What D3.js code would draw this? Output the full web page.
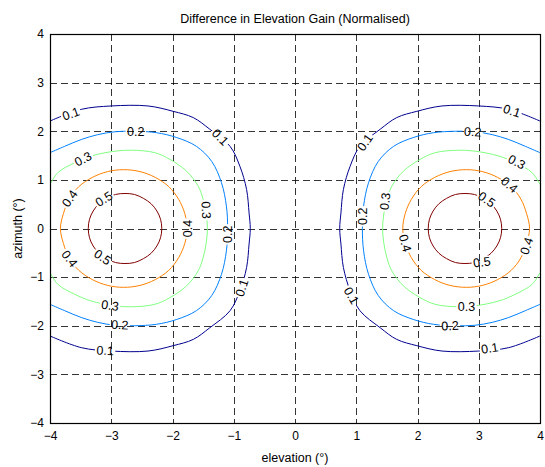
<!DOCTYPE html>
<meta charset="utf-8">
<head>
    <title>Difference in Elevation Gain</title>
    <script src="https://d3js.org/d3.v7.min.js"></script>
</head>

<style>
body { margin: 0; background: #fff; }
svg { font-family: Arial, "Liberation Sans", sans-serif; }
.grid line { stroke: #000; stroke-width: 0.8; stroke-dasharray: 7,4; }
.axis path, .axis line { display: none; }
.axis text { font-size: 12px; fill: #000; }
.clabel { font-size: 12.5px; fill: #000; }
</style>

<body>
<svg></svg>
<script>

// contour levels and their colours (jet)
let levels = [0.1, 0.2, 0.3, 0.4, 0.5];
let levelColors = ["#00008f", "#0080ff", "#80ff80", "#ff8000", "#800000"];

// upper half of each contour of the left lobe, [elevation, azimuth]
// (the lower half is the mirror in azimuth, the right lobe the mirror in elevation)
let c01 = [[-4, 2.21], [-3.49, 2.45], [-3.0, 2.52], [-2.4, 2.52], [-1.99, 2.41], [-1.66, 2.28],
           [-1.39, 2.04], [-1.06, 1.69], [-0.90, 1.28], [-0.79, 0.80], [-0.75, 0.32], [-0.73, 0]];
let c02 = [[-4, 1.56], [-3.76, 1.69], [-3.49, 1.83], [-3.22, 1.93], [-2.94, 1.99], [-2.62, 2.0],
           [-2.26, 1.97], [-1.93, 1.87], [-1.61, 1.69], [-1.36, 1.38], [-1.20, 0.94], [-1.12, 0.46],
           [-1.10, 0]];
let c03 = [[-4, 0.905], [-3.87, 1.15], [-3.60, 1.35], [-3.33, 1.49], [-2.94, 1.59], [-2.67, 1.61],
           [-2.29, 1.56], [-2.04, 1.42], [-1.77, 1.18], [-1.58, 0.87], [-1.50, 0.60], [-1.45, 0.30],
           [-1.43, 0]];
let c04 = [[-3.83, 0], [-3.78, 0.31], [-3.69, 0.60], [-3.53, 0.86], [-3.31, 1.05], [-3.06, 1.17],
           [-2.80, 1.21], [-2.53, 1.17], [-2.28, 1.05], [-2.06, 0.86], [-1.90, 0.60], [-1.80, 0.31],
           [-1.76, 0]];
let c05 = [[-3.375, 0], [-3.355, 0.19], [-3.295, 0.36], [-3.20, 0.51], [-3.075, 0.62], [-2.93, 0.70],
           [-2.775, 0.72], [-2.62, 0.70], [-2.475, 0.62], [-2.35, 0.51], [-2.255, 0.36], [-2.195, 0.19],
           [-2.175, 0]];
let contourHalves = [c01, c02, c03, c04, c05];
let closedContour = [false, false, false, true, true];
let lobeSides = [1, -1];   // 1 = left lobe as traced, -1 = mirrored to the right

// inline contour labels: [level, elevation, azimuth, rotation]
let labels = [
  [0.1, -3.66, 2.36, -20], [0.1, -1.22, 1.88, 45], [0.2, -2.60, 2.00, 0],
  [0.3, -3.46, 1.43, -27], [0.4, -3.68, 0.62, -55], [0.5, -3.12, 0.61, -32],
  [0.4, -1.76, 0.00, -90], [0.3, -1.45, 0.38, 88], [0.2, -1.10, -0.12, -90],
  [0.1, -0.87, -1.22, -72], [0.4, -3.68, -0.62, 52], [0.5, -3.14, -0.59, 35],
  [0.3, -3.02, -1.58, 8], [0.2, -2.86, -1.98, 3], [0.1, -3.10, -2.51, 3],
  [0.1, 1.14, 1.77, -55], [0.1, 3.54, 2.42, 18], [0.2, 2.90, 1.99, 3],
  [0.3, 3.62, 1.37, 28], [0.4, 3.50, 0.90, 40], [0.5, 3.13, 0.60, 35],
  [0.3, 1.47, 0.56, -82], [0.2, 1.11, 0.25, -90], [0.4, 1.80, -0.30, 75],
  [0.4, 3.78, -0.36, -72], [0.5, 3.05, -0.69, -8], [0.1, 0.92, -1.38, 60],
  [0.3, 2.80, -1.60, 0], [0.2, 2.53, -2.00, -3], [0.1, 3.18, -2.46, -8]
];

let ticks = [-4, -3, -2, -1, 0, 1, 2, 3, 4];

// dimensions
let margin = {top: 34, right: 5, bottom: 44, left: 50};
let width = 545 - margin.left - margin.right;
let height = 467 - margin.top - margin.bottom;

let x = d3.scaleLinear().domain([-4, 4]).range([0, width]);
let y = d3.scaleLinear().domain([-4, 4]).range([height, 0]);

let root = d3.select("svg")
    .attr("width", 545)
    .attr("height", 467);

let defs = root.append("defs");
defs.append("clipPath").attr("id", "plotclip")
  .append("rect").attr("width", width).attr("height", height);

var svg = root.append("g")
    .attr("transform", "translate(" + margin.left + "," + margin.top + ")");

// grid
let grid = svg.append("g").attr("class", "grid");
grid.selectAll(".gx").data(ticks.slice(1, -1)).enter().append("line")
    .attr("x1", d => Math.round(x(d)) + 0.5).attr("x2", d => Math.round(x(d)) + 0.5)
    .attr("y1", 0).attr("y2", height);
grid.selectAll(".gy").data(ticks.slice(1, -1)).enter().append("line")
    .attr("y1", d => Math.round(y(d)) + 0.5).attr("y2", d => Math.round(y(d)) + 0.5)
    .attr("x1", 0).attr("x2", width);

// label sizes, needed for the gaps in the contour lines
let tmp = svg.append("text").attr("class", "clabel").text("0.1");
let lw = tmp.node().getComputedTextLength();
tmp.remove();

let mask = defs.append("mask").attr("id", "gaps")
    .attr("maskUnits", "userSpaceOnUse")
    .attr("x", -10).attr("y", -10).attr("width", width + 20).attr("height", height + 20);
mask.append("rect").attr("x", -10).attr("y", -10)
    .attr("width", width + 20).attr("height", height + 20).attr("fill", "#fff");
mask.selectAll(".g").data(labels).enter().append("rect")
    .attr("x", -lw / 2 - 1.5).attr("y", -5.5)
    .attr("width", lw + 3).attr("height", 11)
    .attr("fill", "#000")
    .attr("transform", d => "translate(" + x(d[1]) + "," + y(d[2]) + ") rotate(" + d[3] + ")");

// contour lines
function contourPoints(half, closed, side) {
  let lower = closed ? half.slice(1, -1) : half.slice(0, -1);
  let pts = half.concat(lower.reverse().map(p => [p[0], -p[1]]));
  return pts.map(p => [p[0] * side, p[1]]);
}

let lineOpen = d3.line().x(d => x(d[0])).y(d => y(d[1])).curve(d3.curveCatmullRom.alpha(0.5));
let lineClosed = d3.line().x(d => x(d[0])).y(d => y(d[1])).curve(d3.curveCatmullRomClosed.alpha(0.5));

let cg = svg.append("g").attr("clip-path", "url(#plotclip)")
  .append("g").attr("mask", "url(#gaps)");

lobeSides.forEach(function(side) {
  contourHalves.forEach(function(half, i) {
    let pts = contourPoints(half, closedContour[i], side);
    cg.append("path")
      .attr("d", (closedContour[i] ? lineClosed : lineOpen)(pts))
      .attr("fill", "none")
      .attr("stroke", levelColors[i])
      .attr("stroke-width", 1);
  });
});

// contour labels
svg.selectAll(".clabel").data(labels).enter().append("text")
    .attr("class", "clabel")
    .attr("text-anchor", "middle")
    .attr("dy", "0.35em")
    .attr("transform", d => "translate(" + x(d[1]) + "," + y(d[2]) + ") rotate(" + d[3] + ")")
    .text(d => d3.format(".1f")(d[0]));

// axes
svg.append("g").attr("class", "axis")
  .attr("transform", "translate(0," + height + ")")
  .call(d3.axisBottom(x).tickValues(ticks).tickSize(0).tickPadding(8).tickFormat(d3.format("d")));
svg.append("g").attr("class", "axis")
  .call(d3.axisLeft(y).tickValues(ticks).tickSize(0).tickPadding(6).tickFormat(d3.format("d")));

// box
svg.append("rect")
    .attr("x", 0.5).attr("y", 0.5)
    .attr("width", width).attr("height", height)
    .attr("fill", "none").attr("stroke", "#000").attr("stroke-width", 1.2);

// titles
root.append("text")
    .attr("x", margin.left + width / 2).attr("y", 23)
    .attr("text-anchor", "middle").style("font-size", "12.5px")
    .text("Difference in Elevation Gain (Normalised)");
root.append("text")
    .attr("x", margin.left + width / 2).attr("y", 462)
    .attr("text-anchor", "middle").style("font-size", "12.5px")
    .text("elevation (°)");
root.append("text")
    .attr("transform", "translate(22," + (margin.top + height / 2) + ") rotate(-90)")
    .attr("text-anchor", "middle").style("font-size", "12.5px")
    .text("azimuth (°)");

</script>
</body>
